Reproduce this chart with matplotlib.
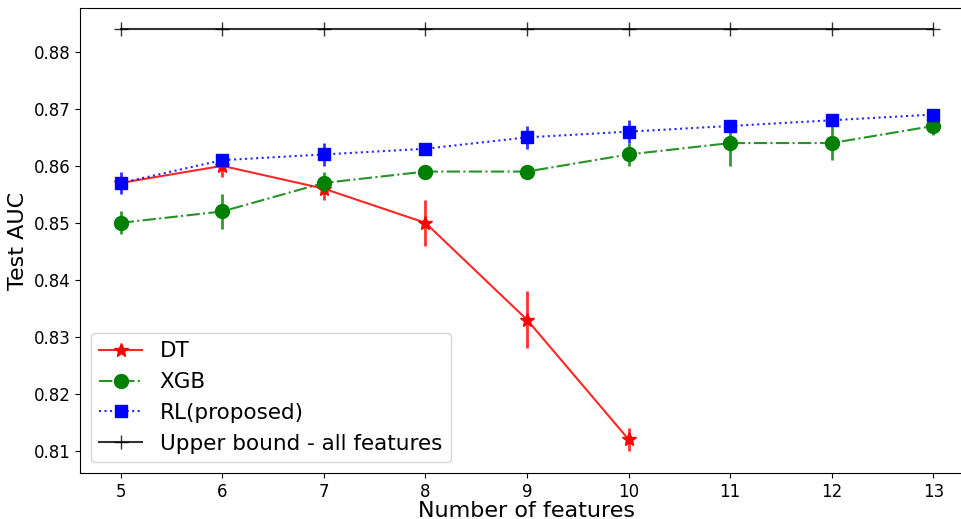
import numpy as np
import matplotlib.pyplot as plt

n_feat = [5, 6, 7, 8, 9, 10, 11, 12, 13]

dt_x = [5, 6, 7, 8, 9, 10]
dt_auc = [0.857, 0.860, 0.856, 0.850, 0.833, 0.812]
dt_err = [0.001, 0.002, 0.002, 0.004, 0.005, 0.002]

xgb_auc = [0.850, 0.852, 0.857, 0.859, 0.859, 0.862, 0.864, 0.864, 0.867]
xgb_err = [0.002, 0.003, 0.002, 0.0005, 0.0005, 0.002, 0.004, 0.003, 0.0015]

rl_auc = [0.857, 0.861, 0.862, 0.863, 0.865, 0.866, 0.867, 0.868, 0.869]
rl_err = [0.002, 0.001, 0.002, 0.0005, 0.002, 0.002, 0.001, 0.0005, 0.0005]

upper = [0.884] * 9

fig = plt.figure(figsize=(9.61, 5.19), dpi=100)
ax = fig.add_axes([80/961, 46/519, 894/961, 465/519])

# error bars
ax.errorbar(dt_x, dt_auc, yerr=dt_err, fmt='none', ecolor='red', elinewidth=2, alpha=0.8)
ax.errorbar(n_feat, xgb_auc, yerr=xgb_err, fmt='none', ecolor='green', elinewidth=2, alpha=0.8)
ax.errorbar(n_feat, rl_auc, yerr=rl_err, fmt='none', ecolor='blue', elinewidth=2, alpha=0.8)

# lines + markers
l1, = ax.plot(dt_x, dt_auc, color='red', linestyle='-', linewidth=1.5, alpha=0.85)
m1, = ax.plot(dt_x, dt_auc, color='red', marker='*', markersize=10, linestyle='none')
l2, = ax.plot(n_feat, xgb_auc, color='green', linestyle='-.', linewidth=1.5, alpha=0.85)
m2, = ax.plot(n_feat, xgb_auc, color='green', marker='o', markersize=10, linestyle='none')
l3, = ax.plot(n_feat, rl_auc, color='blue', linestyle=':', linewidth=1.5, alpha=0.85)
m3, = ax.plot(n_feat, rl_auc, color='blue', marker='s', markersize=9, linestyle='none')
l4, = ax.plot(n_feat, upper, color='black', marker='+', markersize=10, linewidth=1.5,
              alpha=0.8)

ax.set_xlim(4.6, 13.4)
ax.set_ylim(0.8061, 0.8877)
ax.set_xticks(n_feat)
ax.set_yticks([0.81, 0.82, 0.83, 0.84, 0.85, 0.86, 0.87, 0.88])
ax.tick_params(labelsize=12)
ax.set_xlabel('Number of features', fontsize=16, labelpad=0)
ax.set_ylabel('Test AUC', fontsize=16)
ax.legend([(l1, m1), (l2, m2), (l3, m3), l4],
          ['DT', 'XGB', 'RL(proposed)', 'Upper bound - all features'],
          loc='lower left', fontsize=15.5)

fig.savefig('out.png', dpi=100)
